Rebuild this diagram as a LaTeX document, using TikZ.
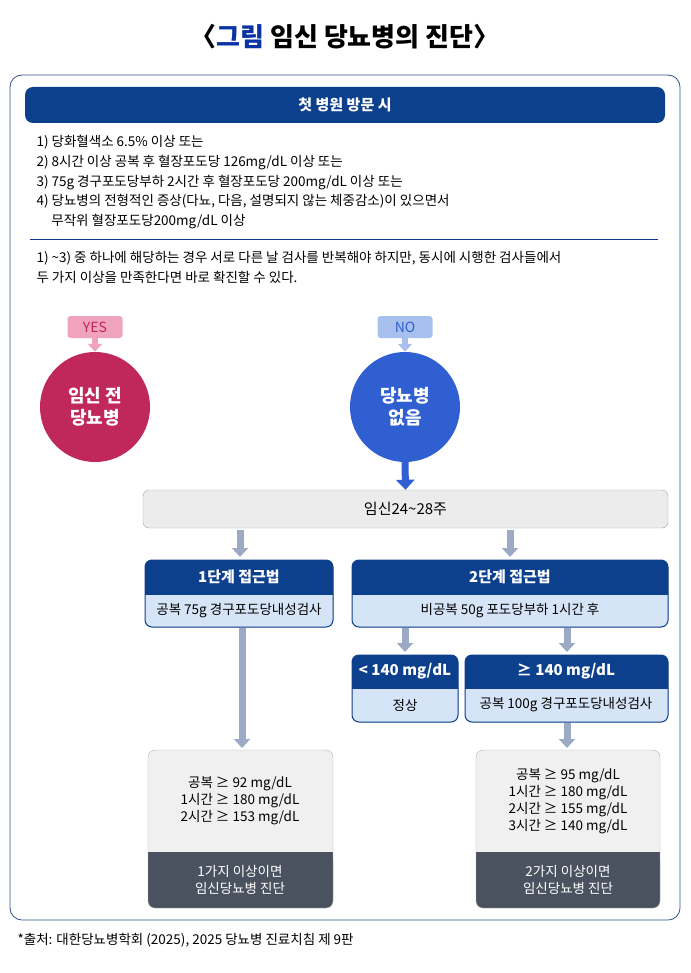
\documentclass[tikz,border=0pt]{standalone}
\usepackage{fontspec}
\setmainfont{Noto Sans CJK KR}
\usetikzlibrary{arrows.meta,positioning}
\definecolor{navy}{HTML}{0C3F8C}
\definecolor{paleblue}{HTML}{D6E4F7}
\definecolor{crimson}{HTML}{C0275A}
\definecolor{pinkish}{HTML}{F0A3BD}
\definecolor{royal}{HTML}{2F5FD0}
\definecolor{skyblue}{HTML}{A8C0EE}
\definecolor{arrowgray}{HTML}{9DAAC6}
\definecolor{slate}{HTML}{4A5260}
\tikzset{
  hdr/.style={text=white, font=\fontsize{15}{17}\selectfont\bfseries},
  sub/.style={font=\fontsize{13.5}{15}\selectfont},
  frame/.style={draw=navy, line width=1pt, rounded corners=7pt},
  flow/.style={line width=7pt, arrowgray, -{Triangle[width=16pt,length=9pt]}},
  pill/.style={rounded corners=3pt, minimum width=55pt, minimum height=22pt, font=\fontsize{14}{16}\selectfont},
  bubble/.style={circle, minimum size=110pt, text=white, align=center, font=\fontsize{18}{22}\selectfont\bfseries},
  crit/.style={align=center, font=\fontsize{13.5}{17}\selectfont},
}
\begin{document}
\begin{tikzpicture}[x=1pt, y=-1pt]
  \useasboundingbox (0,0) rectangle (690,973);
  % title
  \node (title) at (345,37) {\fontsize{26}{30}\selectfont\bfseries 〈{\color{navy!80!blue}그림} 임신 당뇨병의 진단〉};
  \draw[draw=navy!70!gray, line width=0.8pt, rounded corners=12pt] (10,75) rectangle (680,920);
  % first visit
  \fill[navy, rounded corners=8pt] (25,87) rectangle (665,123);
  \node[hdr] (visit) at (345,105) {첫 병원 방문 시};
  \node[anchor=north west, align=left, font=\fontsize{13.5}{19.7}\selectfont] (crit) at (33,132)
    {1) 당화혈색소 6.5\% 이상 또는\\
     2) 8시간 이상 공복 후 혈장포도당 126mg/dL 이상 또는\\
     3) 75g 경구포도당부하 2시간 후 혈장포도당 200mg/dL 이상 또는\\
     4) 당뇨병의 전형적인 증상(다뇨, 다음, 설명되지 않는 체중감소)이 있으면서\\
     \hspace*{1.1em}무작위 혈장포도당200mg/dL 이상};
  \draw[navy, line width=1pt] (30,240) -- (658,240);
  \node[anchor=north west, align=left, font=\fontsize{13.5}{19.5}\selectfont] (note) at (33,248)
    {1) \textasciitilde3) 중 하나에 해당하는 경우 서로 다른 날 검사를 반복해야 하지만, 동시에 시행한 검사들에서\\
     두 가지 이상을 만족한다면 바로 확진할 수 있다.};
  % yes / no
  \node[pill, fill=pinkish, text=crimson] (yes) at (95,327) {YES};
  \node[pill, fill=skyblue, text=royal] (no) at (405,327) {NO};
  \node[bubble, fill=crimson] (pre) at (95,407) {임신 전\\당뇨병};
  \node[bubble, fill=royal] (none) at (405,407) {당뇨병\\없음};
  \draw[line width=6pt, pinkish, -{Triangle[width=14pt,length=8pt]}] (yes.south) -- (pre.north);
  \draw[line width=6pt, skyblue, -{Triangle[width=14pt,length=8pt]}] (no.south) -- (none.north);
  % week box
  \node[draw=gray!70, fill=gray!15, rounded corners=6pt, minimum width=525pt, minimum height=38pt,
        font=\fontsize{15}{17}\selectfont] (week) at (405.5,509) {임신24\textasciitilde28주};
  \draw[line width=7pt, royal, -{Triangle[width=18pt,length=10pt]}] (none.south) -- (week.north);
  % step boxes
  \fill[navy, rounded corners=7pt] (145,560) rectangle (333,627);
  \fill[paleblue, rounded corners=7pt] (145,595) rectangle (333,627);
  \fill[paleblue] (145,595) rectangle (333,605);
  \draw[frame] (145,560) rectangle (333,627);
  \node[hdr] (one) at (239,577) {1단계 접근법};
  \node[sub] (oneSub) at (239,611) {공복 75g 경구포도당내성검사};
  \fill[navy, rounded corners=7pt] (352,560) rectangle (668,627);
  \fill[paleblue, rounded corners=7pt] (352,595) rectangle (668,627);
  \fill[paleblue] (352,595) rectangle (668,605);
  \draw[frame] (352,560) rectangle (668,627);
  \node[hdr] (two) at (510,577) {2단계 접근법};
  \node[sub] (twoSub) at (510,611) {비공복 50g 포도당부하 1시간 후};
  \fill[navy, rounded corners=7pt] (352,655) rectangle (458,722);
  \fill[paleblue, rounded corners=7pt] (352,689) rectangle (458,722);
  \fill[paleblue] (352,689) rectangle (458,699);
  \draw[frame] (352,655) rectangle (458,722);
  \node[hdr] (low) at (405,671) {< 140 mg/dL};
  \node[sub] (normal) at (405,705) {정상};
  \fill[navy, rounded corners=7pt] (465,655) rectangle (668,722);
  \fill[paleblue, rounded corners=7pt] (465,689) rectangle (668,722);
  \fill[paleblue] (465,689) rectangle (668,699);
  \draw[frame] (465,655) rectangle (668,722);
  \node[hdr] (high) at (566,671) {≥ 140 mg/dL};
  \node[sub] (highSub) at (566,705) {공복 100g 경구포도당내성검사};
  % result boxes
  \fill[gray!12, rounded corners=7pt] (148,750) rectangle (333,908);
  \fill[slate, rounded corners=7pt] (148,852) rectangle (333,908);
  \fill[slate] (148,852) rectangle (333,862);
  \draw[draw=gray!60, rounded corners=7pt] (148,750) rectangle (333,908);
  \node[crit] (oneCrit) at (240,801) {공복 ≥ 92 mg/dL\\1시간 ≥ 180 mg/dL\\2시간 ≥ 153 mg/dL};
  \node[crit, text=white] (oneDx) at (240,880) {1가지 이상이면\\임신당뇨병 진단};
  \fill[gray!12, rounded corners=7pt] (476,750) rectangle (660,908);
  \fill[slate, rounded corners=7pt] (476,852) rectangle (660,908);
  \fill[slate] (476,852) rectangle (660,862);
  \draw[draw=gray!60, rounded corners=7pt] (476,750) rectangle (660,908);
  \node[crit] (twoCrit) at (568,801) {공복 ≥ 95 mg/dL\\1시간 ≥ 180 mg/dL\\2시간 ≥ 155 mg/dL\\3시간 ≥ 140 mg/dL};
  \node[crit, text=white] (twoDx) at (568,880) {2가지 이상이면\\임신당뇨병 진단};
  % flow arrows
  \draw[flow] (240,530) -- (240,557);
  \draw[flow] (510,530) -- (510,557);
  \draw[flow] (405,628) -- (405,652);
  \draw[flow] (567,628) -- (567,652);
  \draw[flow] (242,628) -- (242,748);
  \draw[flow] (567,723) -- (567,748);
  % source
  \node[anchor=west, font=\fontsize{13.5}{15}\selectfont] (src) at (14,940) {*출처: 대한당뇨병학회 (2025), 2025 당뇨병 진료치침 제 9판};
\end{tikzpicture}
\end{document}
